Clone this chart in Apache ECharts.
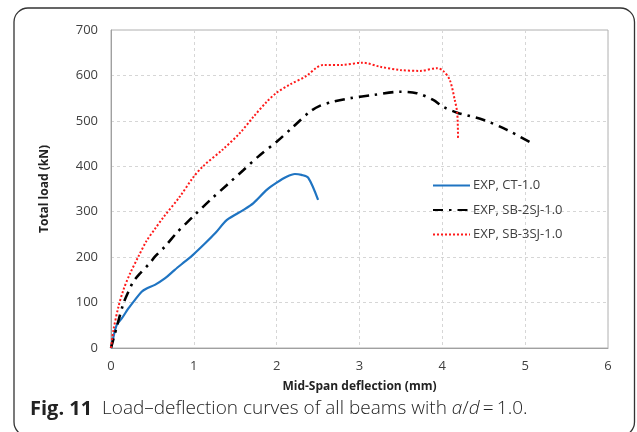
<!DOCTYPE html>
<html><head><meta charset="utf-8">
<script src="https://cdn.jsdelivr.net/npm/echarts@6/dist/echarts.min.js"></script>
<style>html,body{margin:0;padding:0;background:#fff}#c{width:637px;height:432px}</style>
</head><body><div id="c"></div>
<script>
const xTicks = [0,1,2,3,4,5,6];
const yTicks = [0,100,200,300,400,500,600,700];
const seriesNames = ['EXP, CT-1.0','EXP, SB-2SJ-1.0','EXP, SB-3SJ-1.0'];
const ctX = [0,0.03,0.07,0.13,0.21,0.29,0.37,0.43,0.53,0.65,0.77,0.89,0.99,1.14,1.26,1.4,1.6,1.72,1.88,2.0,2.12,2.22,2.3,2.38,2.5];
const ctY = [0,25,51,65,87,106,124,131,139,153,172,190,205,231,253,282,304,319,348,364,377,383,381,375,326];
const sb2X = [0,0.07,0.15,0.21,0.27,0.35,0.47,0.53,0.65,0.79,0.91,1.0,1.2,1.4,1.6,1.8,2.0,2.2,2.4,2.52,2.68,2.89,3.17,3.49,3.69,3.89,4.01,4.18,4.5,4.78,5.1];
const sb2Y = [0,47,98,124,146,164,187,201,223,253,275,291,326,359,392,425,454,487,520,533,542,550,557,564,561,546,531,518,502,480,449];
const sb3X = [0,0.03,0.09,0.15,0.23,0.33,0.43,0.53,0.63,0.83,0.99,1.11,1.35,1.56,1.72,1.88,2.0,2.16,2.36,2.48,2.56,2.77,3.04,3.25,3.49,3.73,3.94,4.01,4.09,4.15,4.18,4.19];
const sb3Y = [0,40,91,128,164,201,236,262,287,333,375,400,437,474,509,542,562,580,599,617,623,623,628,619,612,610,616,610,590,546,517,458];
const caption = 'Load–deflection curves of all beams with ';

const zip = (a,b) => a.map((v,i)=>[v,b[i]]);
const chart = echarts.init(document.getElementById('c'));
const txt = '#404040';
chart.setOption({
  animation:false,
  textStyle:{fontFamily:'Open Sans'},
  grid:{left:111,right:29,top:30,bottom:84,show:true,borderColor:'#b0b0b0',borderWidth:1},
  xAxis:{type:'value',min:0,max:6,interval:1,
    name:'Mid-Span deflection (mm)',nameLocation:'middle',nameGap:33,
    nameTextStyle:{fontWeight:'bold',fontSize:12,color:'#222'},
    axisLine:{lineStyle:{color:'#a0a0a0'}},axisTick:{show:false},
    axisLabel:{color:txt,fontSize:13,margin:12,formatter:v=>String(v)},
    splitLine:{lineStyle:{color:'#d6d6d6',type:[3,3]}}},
  yAxis:{type:'value',min:0,max:700,interval:100,
    name:'Total load (kN)',nameLocation:'middle',nameGap:60,nameRotate:90,
    nameTextStyle:{fontWeight:'bold',fontSize:12,color:'#222'},
    axisLine:{show:true,lineStyle:{color:'#a0a0a0'}},axisTick:{show:false},
    axisLabel:{color:txt,fontSize:13,margin:13},
    splitLine:{lineStyle:{color:'#d6d6d6',type:[3,3]}}},
  legend:{orient:'vertical',left:427,top:174,itemWidth:37,itemHeight:10,itemGap:11.5,
    itemStyle:{opacity:0},
    textStyle:{color:txt,fontSize:13,padding:[0,0,0,-2]},data:seriesNames},
  series:[
    {name:seriesNames[0],type:'line',data:zip(ctX,ctY),symbol:'none',smooth:0.3,
     lineStyle:{color:'#1f74c2',width:2.2},itemStyle:{color:'#1f74c2'}},
    {name:seriesNames[1],type:'line',data:zip(sb2X,sb2Y),symbol:'none',smooth:0.3,
     lineStyle:{color:'#000',width:2.6,type:[10,6,2.5,6]},itemStyle:{color:'#000'}},
    {name:seriesNames[2],type:'line',data:zip(sb3X,sb3Y),symbol:'none',smooth:0.3,
     lineStyle:{color:'#ff1a1a',width:2,type:[2,2]},itemStyle:{color:'#ff1a1a'}}
  ],
  graphic:[
    {type:'rect',shape:{x:14,y:8,width:620.5,height:428,r:14},style:{fill:'none',stroke:'#333',lineWidth:1.3},silent:true},
    {type:'text',left:30,top:399,style:{rich:{b:{fontFamily:'Open Sans',fontWeight:'bold',fontSize:20,fill:'#222'},
      n:{fontFamily:'Open Sans',fontWeight:300,fontSize:19,fill:'#222'},
      i:{fontFamily:'Open Sans',fontStyle:'italic',fontWeight:300,fontSize:19,fill:'#222'}},
      text:'{b|Fig. 11}{n|  '+caption+'}{i|a}{n|/}{i|d}{n|\u2009=\u20091.0.}'}}
  ]
});
</script></body></html>
